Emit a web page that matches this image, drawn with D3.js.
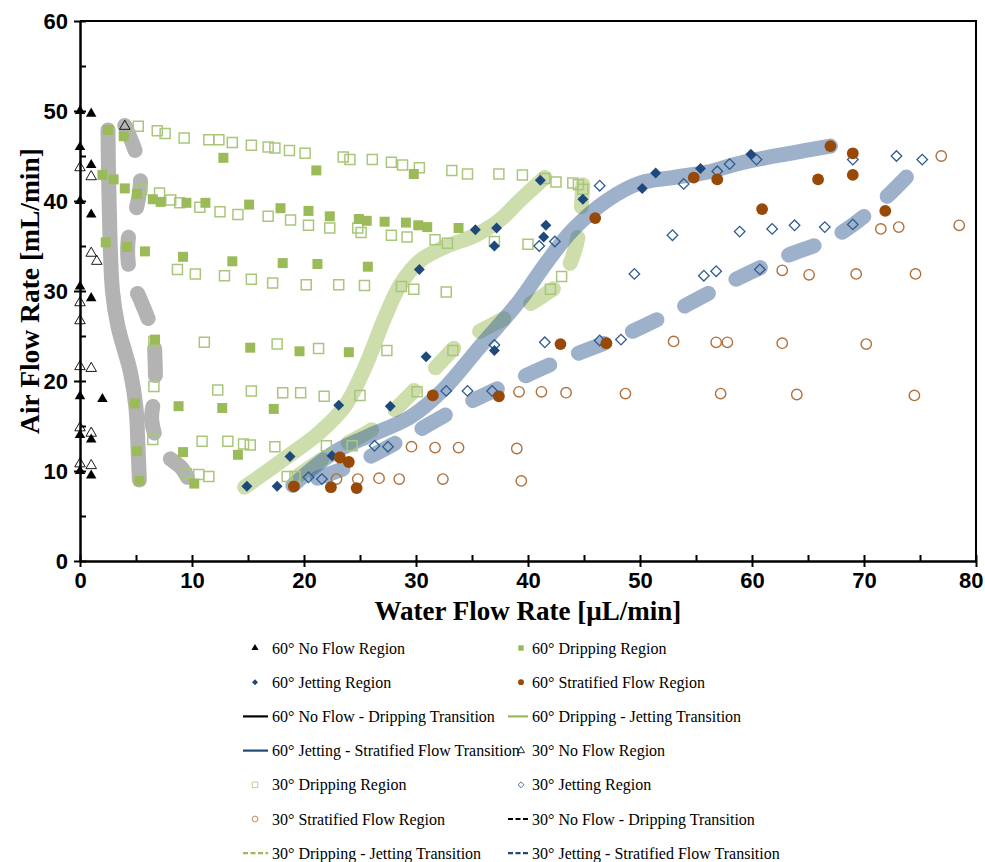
<!DOCTYPE html>
<html>
<head>
  <meta charset="utf-8">
  <title>flow-regimes</title>
  <style>
    * { padding: 0; margin: 0; }
    body { background: #fff; }
    svg { display: block; font-family: "Liberation Serif", "Times New Roman", serif; }
    .axis text { font-size: 22px; font-weight: bold; fill: #000; }
    .axis path, .axis line { stroke: #000; }
    .legend text { font-size: 16px; fill: #000; }
  </style>
</head>
<body>
  <svg id="svg"></svg>
  <script src="https://cdnjs.cloudflare.com/ajax/libs/d3/7.8.5/d3.min.js"></script>
  <script>
    // ---- data (water flow µL/min, air flow mL/min) ----
    const noFlow60 = [[0, 50], [0, 46], [0, 40], [0, 30.5], [0, 18.3], [0, 14], [0, 10],
      [1, 49.7], [1, 44], [1, 38.5], [1, 29.2], [1, 13.5], [1, 9.5], [2, 18]];
    const dripping60 = [[2.5, 47.9], [3.9, 47.2], [12.8, 44.8], [21.1, 43.4], [29.8, 43.0], [2.0, 42.9], [3.0, 42.4],
      [4.0, 41.4], [5.1, 40.8], [6.5, 40.2], [7.2, 39.9], [9.5, 39.8], [11.2, 39.8], [15.1, 39.6], [17.9, 39.2],
      [20.4, 38.9], [22.3, 38.3], [24.9, 38.0], [25.6, 37.8], [27.2, 37.7], [29.1, 37.6], [30.2, 37.3], [31.0, 37.1],
      [33.8, 37.0], [2.3, 35.4], [4.2, 34.9], [5.8, 34.4], [9.2, 33.8], [13.6, 33.3], [18.1, 33.1], [21.2, 33.0],
      [25.7, 32.7], [6.7, 24.6], [15.2, 23.7], [19.6, 23.3], [24.0, 23.2], [4.9, 17.5], [8.8, 17.2], [12.7, 17.0],
      [17.3, 16.9], [5.1, 12.2], [9.2, 12.1], [14.1, 11.8], [5.3, 8.9], [10.2, 8.6]];
    const jetting60 = [[14.9, 8.3], [17.6, 8.3], [18.75, 11.6], [22.5, 11.7], [23.1, 17.3], [27.7, 17.2], [30.9, 22.7],
      [37.0, 23.4], [30.3, 32.4], [35.3, 36.8], [37.2, 37.0], [37.0, 35.0], [41.6, 37.3], [41.4, 36.0], [41.1, 42.3],
      [44.9, 40.2], [50.2, 41.4], [51.4, 43.1], [55.4, 43.6], [59.9, 45.2]];
    const stratified60 = [[19.1, 8.3], [22.4, 8.2], [24.7, 8.1], [23.2, 11.5], [24.0, 11.0], [31.5, 18.4], [37.4, 18.3],
      [42.9, 24.1], [47.0, 24.2], [46.0, 38.1], [54.8, 42.6], [56.9, 42.4], [60.9, 39.1], [65.9, 42.4], [67.0, 46.1],
      [69.0, 45.3], [69.0, 42.9], [71.9, 38.9]];
    const noFlow30 = [[0, 43.7], [1, 42.7], [1, 34.2], [1.5, 33.3], [0, 28.7], [0, 26.7], [0, 21.6], [1, 21.4],
      [0, 14.8], [1, 14.2], [0, 10.8], [1, 10.6], [4, 48.3]];
    const dripping30 = [[5.2, 48.3], [6.9, 47.8], [7.6, 47.5], [9.3, 47.0], [11.5, 46.8], [12.4, 46.8], [13.6, 46.5],
      [15.3, 46.2], [16.8, 46.0], [17.4, 45.9], [18.7, 45.6], [20.1, 45.3], [23.5, 44.9], [24.1, 44.6], [26.1, 44.6],
      [27.8, 44.3], [28.8, 44.0], [30.3, 43.7], [33.2, 43.4], [34.6, 43.0], [37.4, 43.0], [39.5, 42.9], [41.5, 42.5],
      [42.5, 42.1], [44.0, 42.0], [44.5, 41.8], [44.9, 41.3],
      [5.5, 41.3], [7.1, 40.9], [8.1, 40.1], [8.9, 39.8], [10.7, 39.3], [12.5, 38.8], [14.1, 38.5], [16.8, 38.3],
      [18.8, 37.9], [20.4, 37.3], [22.3, 37.0], [24.8, 37.0], [25.1, 36.5], [27.8, 36.2], [29.2, 36.0], [31.7, 35.7],
      [32.8, 35.3], [37.0, 35.5], [40.0, 35.2],
      [8.7, 32.4], [10.3, 31.9], [12.9, 31.7], [15.3, 31.3], [17.2, 30.9], [20.2, 30.7], [23.1, 30.7], [25.4, 30.6],
      [28.7, 30.5], [29.8, 30.2], [32.7, 29.9], [42.0, 30.2], [43.0, 31.6],
      [6.6, 24.4], [11.1, 24.3], [17.6, 24.1], [21.3, 23.6], [27.4, 23.4], [33.3, 23.4],
      [6.6, 19.4], [12.3, 19.0], [15.3, 18.9], [18.1, 18.7], [19.7, 18.7], [21.8, 18.3], [25.0, 18.4], [30.1, 18.8],
      [6.5, 13.5], [10.9, 13.3], [13.2, 13.3], [14.6, 13.0], [15.2, 12.9], [17.4, 12.7], [22.0, 12.8], [24.3, 12.8],
      [9.5, 9.7], [10.6, 9.6], [11.5, 9.4], [18.5, 9.4], [19.2, 9.4]];
    const jetting30 = [[20.4, 9.3], [21.6, 9.1], [26.3, 12.8], [27.5, 12.7], [32.7, 18.9], [34.6, 18.9], [36.8, 18.9],
      [37.0, 24.0], [41.5, 24.3], [46.4, 24.5], [48.3, 24.6], [41.0, 35.0], [42.4, 35.5], [46.4, 41.7], [49.5, 31.9],
      [52.9, 36.2], [53.9, 41.9], [55.7, 31.7], [56.8, 32.2], [56.9, 43.3], [58.0, 44.1], [58.9, 36.6], [60.4, 44.6],
      [60.7, 32.4], [61.8, 36.9], [63.8, 37.3], [66.5, 37.1], [69.0, 37.4], [69.0, 44.6], [72.9, 45.0], [75.2, 44.6]];
    const stratified30 = [[22.9, 9.1], [24.8, 9.1], [26.7, 9.2], [28.5, 9.1], [32.4, 9.1], [39.4, 8.9], [29.6, 12.7],
      [31.7, 12.6], [33.8, 12.6], [39.0, 12.5], [39.2, 18.8], [41.2, 18.8], [43.4, 18.7], [48.7, 18.6], [57.2, 18.6],
      [64.0, 18.5], [74.5, 18.4], [53.0, 24.4], [56.8, 24.3], [57.8, 24.3], [62.7, 24.2], [70.2, 24.1], [62.7, 32.3],
      [65.1, 31.8], [69.3, 31.9], [74.6, 31.9], [71.5, 36.9], [73.1, 37.1], [78.5, 37.3], [76.9, 45.0]];

    // transition boundaries (hand drawn bands)
    const noFlowDrip60 = [[2.5, 47.9], [2.6, 40], [2.9, 30], [3.4, 26], [4.5, 21], [5.0, 17], [5.2, 12], [5.3, 9]];
    const dripJet60 = [[14.7, 8.2], [18.75, 11.8], [21.4, 14.3], [23.7, 17.3], [25.4, 21.4], [27.2, 27.0], [28.6, 30.7],
      [30.4, 33.4], [32.6, 34.9], [35.3, 36.2], [37.5, 37.9], [39.3, 40.1], [41.5, 42.6]];
    const jetStrat60 = [[19.0, 8.4], [22.6, 12.0], [25.6, 13.8], [29.5, 16.0], [32.4, 19.0], [35.7, 23.8], [39.3, 29.0],
      [41.5, 32.9], [44.0, 36.8], [47.1, 40.1], [50.0, 42.0], [52.9, 42.6], [56.0, 43.2], [58.9, 44.2], [63.4, 45.3],
      [67.0, 46.1]];
    const noFlowDrip30 = [[4.0, 48.4], [5.1, 44.9], [5.4, 42.1], [4.9, 38.4], [4.3, 35.7], [4.5, 31.6], [5.4, 29.0],
      [6.5, 25.3], [6.7, 22.3], [6.7, 18.7], [6.4, 15.7], [7.3, 12.3], [9.1, 10.3], [9.6, 9.3]];
    const dripJet30 = [[19.6, 9.6], [23.2, 12.6], [26.3, 14.8], [29.0, 17.9], [32.6, 22.6], [33.9, 24.2], [38.4, 27.3],
      [41.5, 29.6], [42.9, 31.0], [44.2, 34.6], [44.6, 37.3], [44.9, 41.8]];
    const jetStrat30 = [[21.2, 9.2], [24.4, 10.7], [29.2, 13.8], [33.75, 17.0], [38.6, 19.9], [42.9, 22.3], [48.2, 24.9],
      [53.3, 27.9], [57.9, 30.9], [62.7, 33.7], [67.6, 36.2], [71.7, 40.1], [75.4, 44.8]];

    const xTicks = [0, 10, 20, 30, 40, 50, 60, 70, 80];
    const yTicks = [0, 10, 20, 30, 40, 50, 60];
    const xMinor = [5, 15, 25, 35, 45, 55, 65, 75];
    const yMinor = [5, 15, 25, 35, 45, 55];

    // ---- layout ----
    const W = 985, H = 862;
    const m = { left: 80, right: 976, top: 21, bottom: 561 };
    const svg = d3.select('#svg').attr('width', W).attr('height', H);

    const x = d3.scaleLinear().domain([0, 80]).range([m.left, m.right]);
    const y = d3.scaleLinear().domain([0, 60]).range([m.bottom, m.top]);

    const col = {
      green: '#9bbb59',
      greenLight: '#a9c77a',
      blue: '#1f497d',
      blueLight: '#2f5b93',
      brown: '#984807',
      brownLight: '#b0703c'
    };

    // ---- bands ----
    const line = d3.line().x(d => x(d[0])).y(d => y(d[1])).curve(d3.curveCatmullRom.alpha(0.5));
    const bands = svg.append('g');
    function band(data, color, opacity, dashed) {
      bands.append('path')
        .attr('d', line(data))
        .attr('fill', 'none')
        .attr('stroke', color)
        .attr('stroke-opacity', opacity)
        .attr('stroke-width', 15)
        .attr('stroke-linecap', 'round')
        .attr('stroke-linejoin', 'round')
        .attr('stroke-dasharray', dashed ? '27 31' : null);
    }
    band(noFlowDrip60, '#999', 0.75, false);
    band(noFlowDrip30, '#999', 0.75, true);
    band(dripJet60, '#9bbb59', 0.5, false);
    band(dripJet30, '#9bbb59', 0.5, true);
    band(jetStrat60, '#3c6496', 0.5, false);
    band(jetStrat30, '#3c6496', 0.5, true);

    // ---- markers ----
    const sym = {
      tri: d3.symbol().type(d3.symbolTriangle),
      sq: d3.symbol().type(d3.symbolSquare),
      dia: d3.symbol().type(d3.symbolSquare),
      circ: d3.symbol().type(d3.symbolCircle)
    };
    function points(data, shape, size, fill, stroke, sw) {
      svg.append('g').selectAll('path')
        .data(data)
        .enter()
        .append('path')
        .attr('d', sym[shape].size(size)())
        .attr('transform', d => `translate(${x(d[0])},${y(d[1])})` + (shape === 'dia' ? ' rotate(45)' : ''))
        .attr('fill', fill)
        .attr('stroke', stroke)
        .attr('stroke-width', sw);
    }
    points(dripping30, 'sq', 100, 'none', col.greenLight, 1.5);
    points(jetting30, 'dia', 56, 'none', col.blueLight, 1.3);
    points(stratified30, 'circ', 85, 'none', col.brownLight, 1.4);
    points(noFlow30, 'tri', 48, 'none', '#000', 0.9);
    points(dripping60, 'sq', 100, col.green, 'none', 0);
    points(jetting60, 'dia', 60, col.blue, 'none', 0);
    points(stratified60, 'circ', 110, col.brown, 'none', 0);
    points(noFlow60, 'tri', 48, '#000', 'none', 0);

    // ---- axes ----
    const gx = svg.append('g').attr('class', 'axis').attr('transform', `translate(0,${m.bottom})`)
      .call(d3.axisBottom(x).tickValues(xTicks).tickSize(6).tickSizeOuter(0).tickPadding(5));
    gx.selectAll('.tick line').attr('y1', -6).attr('stroke-width', 2);
    gx.select('.domain').attr('stroke-width', 2.5);
    gx.selectAll('.tick text').filter(d => d === 80).attr('text-anchor', 'end').attr('dx', 7);
    const gxm = svg.append('g').attr('class', 'axis').attr('transform', `translate(0,${m.bottom})`)
      .call(d3.axisBottom(x).tickValues(xMinor).tickSize(-6).tickFormat(''));
    gxm.select('.domain').remove();
    gxm.selectAll('.tick line').attr('stroke-width', 2);

    const gy = svg.append('g').attr('class', 'axis').attr('transform', `translate(${m.left},0)`)
      .call(d3.axisLeft(y).tickValues(yTicks).tickSize(6).tickSizeOuter(0).tickPadding(6));
    gy.selectAll('.tick line').attr('x1', 6).attr('stroke-width', 2);
    gy.select('.domain').attr('stroke-width', 2.5);
    const gym = svg.append('g').attr('class', 'axis').attr('transform', `translate(${m.left},0)`)
      .call(d3.axisLeft(y).tickValues(yMinor).tickSize(-6).tickFormat(''));
    gym.select('.domain').remove();
    gym.selectAll('.tick line').attr('stroke-width', 2);

    // top/right frame
    svg.append('path')
      .attr('d', `M${m.left},${m.top}H${m.right}V${m.bottom}`)
      .attr('fill', 'none').attr('stroke', '#000').attr('stroke-width', 2);

    svg.append('text')
      .attr('x', 528).attr('y', 620)
      .attr('text-anchor', 'middle')
      .style('font-size', '27px').style('font-weight', 'bold')
      .text('Water Flow Rate [µL/min]');
    svg.append('text')
      .attr('transform', `translate(39,${(m.top + m.bottom) / 2}) rotate(-90)`)
      .attr('text-anchor', 'middle')
      .style('font-size', '27.5px').style('font-weight', 'bold')
      .text('Air Flow Rate [mL/min]');

    // ---- legend ----
    const legendItems = [
      { label: '60° No Flow Region', shape: 'tri', fill: '#000' },
      { label: '60° Dripping Region', shape: 'sq', fill: col.green },
      { label: '60° Jetting Region', shape: 'dia', fill: col.blue },
      { label: '60° Stratified Flow Region', shape: 'circ', fill: col.brown },
      { label: '60° No Flow - Dripping Transition', line: '#000' },
      { label: '60° Dripping - Jetting Transition', line: col.green },
      { label: '60° Jetting - Stratified Flow Transition', line: col.blue },
      { label: '30° No Flow Region', shape: 'tri', stroke: '#000' },
      { label: '30° Dripping Region', shape: 'sq', stroke: col.greenLight },
      { label: '30° Jetting Region', shape: 'dia', stroke: col.blueLight },
      { label: '30° Stratified Flow Region', shape: 'circ', stroke: col.brownLight },
      { label: '30° No Flow - Dripping Transition', line: '#000', dash: true },
      { label: '30° Dripping - Jetting Transition', line: col.green, dash: true },
      { label: '30° Jetting - Stratified Flow Transition', line: col.blue, dash: true }
    ];
    const legend = svg.append('g').attr('class', 'legend');
    const colX = [255, 521], textX = [272, 532], lineX = [[243, 268], [508, 528]];
    const legendSize = { tri: 22, sq: 30, dia: 18, circ: 26 };
    legendItems.forEach((it, i) => {
      const c = i % 2, r = Math.floor(i / 2);
      const ly = 648 + r * 34.2;
      if (it.line) {
        legend.append('line')
          .attr('x1', lineX[c][0]).attr('x2', lineX[c][1]).attr('y1', ly).attr('y2', ly)
          .attr('stroke', it.line).attr('stroke-width', 2.2)
          .attr('stroke-dasharray', it.dash ? '5 2.5' : null);
      } else {
        legend.append('path')
          .attr('d', sym[it.shape].size(legendSize[it.shape])())
          .attr('transform', `translate(${colX[c]},${ly})` + (it.shape === 'dia' ? ' rotate(45)' : ''))
          .attr('fill', it.fill || 'none')
          .attr('stroke', it.stroke || 'none')
          .attr('stroke-width', 0.8);
      }
      legend.append('text')
        .attr('x', textX[c]).attr('y', ly).attr('dy', '0.35em')
        .text(it.label);
    });
  </script>
</body>
</html>
